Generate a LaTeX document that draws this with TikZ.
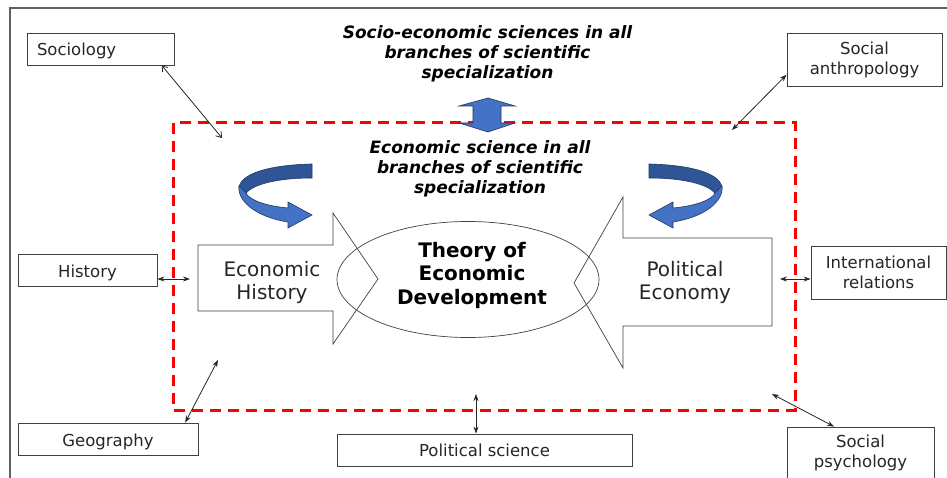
\documentclass[tikz,border=0pt]{standalone}
\usepackage{fontspec}
\setmainfont{DejaVu Sans}[BoldFont={DejaVu Sans Bold},ItalicFont={DejaVu Sans Oblique},BoldItalicFont={DejaVu Sans Bold Oblique}]
\usetikzlibrary{arrows.meta,shapes.geometric}
\definecolor{boxline}{HTML}{404040}
\definecolor{frameline}{HTML}{606060}
\definecolor{txt}{HTML}{262626}
\definecolor{bluelight}{HTML}{4472C4}
\definecolor{bluedark}{HTML}{2F5597}
\definecolor{blueedge}{HTML}{1F3864}
\newcommand\mycurlarrow{%
  \fill[bluedark, draw=blueedge, line width=0.6pt]
    (312,164) .. controls (268,165) and (240,174) .. (239,188)
    -- (246,193) .. controls (254,184) and (278,178) .. (312,178) -- cycle;
  \fill[bluelight, draw=blueedge, line width=0.6pt]
    (239,186) .. controls (237,201) and (256,217) .. (288,222)
    -- (288,228) -- (312,215) -- (288,202) -- (288,208)
    .. controls (266,206) and (249,200) .. (246,193) -- cycle;
}
\begin{document}
\begin{tikzpicture}[x=1pt,y=-1pt,
  box/.style={draw=boxline, line width=0.8pt, inner sep=0pt, text=txt,
    font=\fontsize{16.5}{20}\selectfont, align=center},
  lowbox/.style={box, text height=14pt, text depth=0pt},
  boxtext/.style={inner sep=0pt, text=txt, font=\fontsize{16.5}{20}\selectfont, align=center},
  titletext/.style={inner sep=0pt, text=black, font=\fontsize{17}{20}\selectfont\bfseries\itshape, align=center},
  blk/.style={draw=boxline, line width=0.7pt},
  blktext/.style={inner sep=0pt, text=txt, font=\fontsize{20}{23}\selectfont, align=center},
  core/.style={inner sep=0pt, text=black, font=\fontsize{20}{23.5}\selectfont\bfseries, align=center},
  conn/.style={draw=black!85, line width=0.8pt, {Stealth[length=7pt,width=5pt]}-{Stealth[length=7pt,width=5pt]}},
  openconn/.style={draw=black!85, line width=0.8pt, {Straight Barb[length=5pt,width=7pt]}-{Straight Barb[length=5pt,width=7pt]}},
  reddash/.style={draw=red, line width=3pt, dash pattern=on 11pt off 7pt}
]
\useasboundingbox (0,0) rectangle (947,478);
\clip (0,0) rectangle (947,478);
\fill[white] (0,0) rectangle (947,478);
% outer frame
\draw[frameline, line width=1.2pt] (10,500) -- (10,8) -- (960,8);

% red dashed region
\draw[reddash] (173,123) rectangle (795,410);

% double arrow
\fill[bluelight, draw=blueedge, line width=0.6pt]
  (488,98) -- (515,106) -- (501,106) -- (501,123) -- (515,123) -- (488,132)
  -- (459,123) -- (473,123) -- (473,106) -- (459,106) -- cycle;

% texts
\node[titletext] (socio) at (487.5,54) {Socio-economic sciences in all\\branches of scientific\\specialization};
\node[titletext] (econ) at (480,168.5) {Economic science in all\\branches of scientific\\specialization};

% curved arrows
\mycurlarrow
\begin{scope}[xshift=961pt, xscale=-1]
\mycurlarrow
\end{scope}

% central ellipse
\node[ellipse, draw=boxline, line width=0.7pt, inner sep=0pt, minimum width=262pt, minimum height=116pt] (ted) at (468,279.5) {};
\node[core] (tedtext) at (472,275) {Theory of\\Economic\\Development};

% block arrows
\draw[blk] (198,245) -- (333,245) -- (333,213) -- (378,279) -- (333,344) -- (333,311) -- (198,311) -- cycle;
\draw[blk] (772,238) -- (623,238) -- (623,197) -- (574,283) -- (623,368) -- (623,326) -- (772,326) -- cycle;
\node[blktext] (eh) at (272,282) {Economic\\History};
\node[blktext] (pe) at (685,282) {Political\\Economy};

% outer boxes
\node[lowbox, minimum height=32pt, text width=127pt, inner xsep=10pt, align=left] (soc) at (100.5,49) {Sociology};
\node[box, minimum width=155pt, minimum height=53pt] (sa) at (864.5,59.5) {Social\\anthropology};
\node[lowbox, minimum width=139pt, minimum height=32pt] (hist) at (87.5,270) {History};
\node[box, minimum width=135pt, minimum height=53pt] (ir) at (878.5,272.5) {International\\relations};
\node[lowbox, minimum width=180pt, minimum height=32pt] (geo) at (108,439) {Geography};
\node[box, minimum width=295pt, minimum height=32pt] (ps) at (484.5,450) {Political science};
\node[box, minimum width=147pt, minimum height=60pt] (sp) at (860.5,457) {};
\node[boxtext] (sptext) at (860.5,453) {Social\\psychology};

% connector free ends
\coordinate (socE) at (222,138);
\coordinate (saE) at (732,130);
\coordinate (histE) at (190,279);
\coordinate (irE) at (780,279);
\coordinate (geoE) at (218,360);
\coordinate (psE) at (476,394);
\coordinate (spE) at (772,394);

% connectors
\draw[openconn] (soc.-15.5) -- (socE);
\draw[conn] (sa.191.3) -- (saE);
\draw[conn] (hist.east |- histE) -- (histE);
\draw[conn] (ir.west |- irE) -- (irE);
\draw[conn] (geo.12.9) -- (geoE);
\draw[conn] (ps.north -| psE) -- (psE);
\draw[conn] (sp.131.5) -- (spE);
\end{tikzpicture}
\end{document}
